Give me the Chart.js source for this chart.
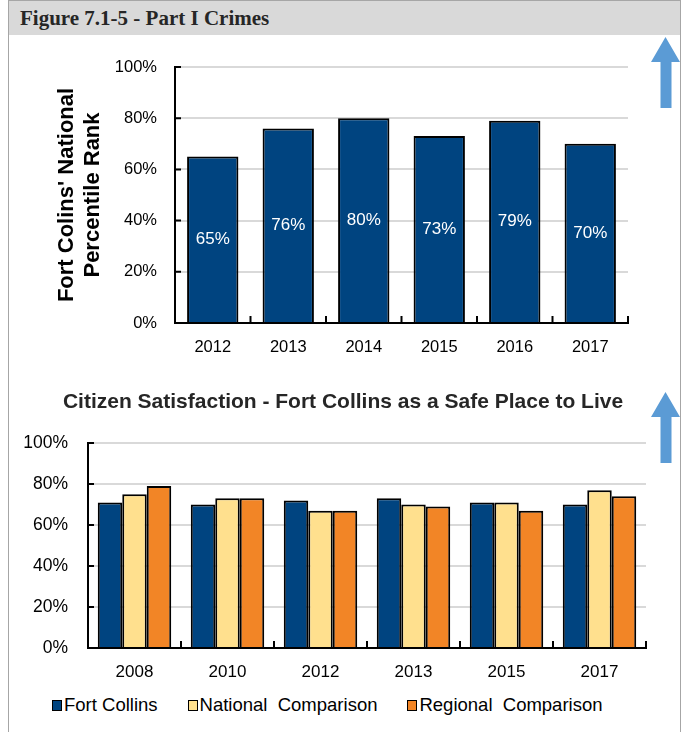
<!DOCTYPE html>
<html><head><meta charset="utf-8">
<script src="https://cdn.jsdelivr.net/npm/chart.js@4.4.1/dist/chart.umd.min.js"></script>
<style>
html,body{margin:0;padding:0;background:#fff;}
body{width:683px;height:732px;position:relative;overflow:hidden;font-family:"Liberation Sans",Arial,sans-serif;}
#frame{position:absolute;left:8px;top:0;width:673px;height:760px;border:1.5px solid #A6A6A6;box-sizing:border-box;}
#header{position:absolute;left:9px;top:1px;width:671px;height:34px;background:#D9D9D9;}
#header span{position:absolute;left:11px;top:5px;font:bold 21px "Liberation Serif","Times New Roman",serif;color:#262626;white-space:nowrap;}
#c1{position:absolute;left:0;top:36px;}
#c2{position:absolute;left:0;top:380px;}
#arrows{position:absolute;left:0;top:0;}
#legend{position:absolute;left:52px;top:694px;display:flex;gap:30px;font:18.5px "Liberation Sans",Arial,sans-serif;color:#000;}
#legend .item{display:flex;align-items:center;white-space:pre;}
#legend .box{width:10px;height:11px;border:1.5px solid #000;box-sizing:border-box;margin-right:2px;}
</style>
</head>
<body>
<div id="frame"></div>
<div id="header"><span>Figure 7.1-5 - Part I Crimes</span></div>
<svg id="arrows" width="683" height="732">
  <polygon points="665.5,37 680,62 671.5,62 671.5,108 660.5,108 660.5,62 651,62" fill="#5B9BD5"/>
  <polygon points="665.5,392 680,417 671.5,417 671.5,463 660.5,463 660.5,417 651,417" fill="#5B9BD5"/>
</svg>
<canvas id="c1" width="683" height="334"></canvas>
<canvas id="c2" width="683" height="310"></canvas>
<div id="legend"></div>
<script>
// ---- Data ----
const crimeYears = ['2012','2013','2014','2015','2016','2017'];
const crimeRank = [65, 76, 80, 73, 79, 70];
const rankTitle = ["Fort Colins' National", "Percentile Rank"];

const satYears = ['2008','2010','2012','2013','2015','2017'];
const fortCollins = [71, 70, 72, 73, 71, 70];
const nationalComp = [75, 73, 67, 70, 71, 77];
const regionalComp = [79, 73, 67, 69, 67, 74];
const seriesNames = ['Fort Collins', 'National  Comparison', 'Regional  Comparison'];
const seriesColors = ['#004480', '#FFE08E', '#F28526'];
const satTitle = 'Citizen Satisfaction - Fort Collins as a Safe Place to Live';

const yMin = 0, yMax = 100, yStep = 20;

// ---- Plugins ----
const inwardTicks = {
  id: 'inwardTicks',
  afterDraw(chart) {
    const {ctx, chartArea: a, scales: {x, y}} = chart;
    ctx.save();
    ctx.strokeStyle = '#000';
    ctx.lineWidth = 2;
    ctx.beginPath();
    y.ticks.forEach(t => {
      const py = y.getPixelForValue(t.value);
      ctx.moveTo(a.left, py); ctx.lineTo(a.left + 6, py);
    });
    const n = x.ticks.length;
    for (let i = 0; i <= n; i++) {
      const px = x.getPixelForValue(i - 0.5);
      ctx.moveTo(px, a.bottom); ctx.lineTo(px, a.bottom - 7);
    }
    ctx.stroke();
    ctx.restore();
  }
};

const barLabels = {
  id: 'barLabels',
  afterDatasetsDraw(chart) {
    const ctx = chart.ctx;
    const meta = chart.getDatasetMeta(0);
    const vals = chart.data.datasets[0].data;
    ctx.save();
    ctx.fillStyle = '#fff';
    ctx.font = '17px "Liberation Sans", Arial, sans-serif';
    ctx.textAlign = 'center';
    ctx.textBaseline = 'middle';
    meta.data.forEach((bar, i) => {
      ctx.fillText(vals[i] + '%', bar.x, (bar.y + bar.base) / 2);
    });
    ctx.restore();
  }
};

// shifts the centre of the chart title to the right (title sits off the plot centre in the source)
const titleShift = {
  id: 'titleShift',
  afterLayout(chart, args, opts) {
    if (chart.titleBlock) chart.titleBlock.left += opts.shift || 0;
  }
};

Chart.defaults.font.family = '"Liberation Sans", Arial, sans-serif';
Chart.defaults.color = '#000';

const yScaleBase = (fontSize, pad) => ({
  min: yMin, max: yMax,
  ticks: {stepSize: yStep, callback: v => v + '%', color: '#000', font: {size: fontSize}, padding: pad},
  grid: {color: '#D9D9D9', lineWidth: 2, drawTicks: false},
  border: {display: true, color: '#000', width: 2}
});

// ---- Chart 1 ----
new Chart(document.getElementById('c1'), {
  type: 'bar',
  data: {
    labels: crimeYears,
    datasets: [{
      data: crimeRank,
      backgroundColor: '#004480',
      borderColor: '#000',
      borderWidth: 2,
      barPercentage: 0.68,
      categoryPercentage: 1
    }]
  },
  options: {
    responsive: false,
    animation: false,
    layout: {padding: {top: 31, right: 55, left: 0, bottom: 0}},
    plugins: {legend: {display: false}, tooltip: {enabled: false}},
    scales: {
      x: {
        grid: {display: false, drawTicks: false},
        border: {display: true, color: '#000', width: 2},
        ticks: {color: '#000', font: {size: 16.5}, padding: 15},
        afterFit(s) { s.height = 47; }
      },
      y: Object.assign(yScaleBase(16.5, 18), {
        title: {
          display: true,
          text: rankTitle,
          color: '#000',
          font: {size: 22, weight: 'bold', lineHeight: 1.18},
          padding: {top: 54, bottom: 0}
        },
        afterFit(s) { s.width = 175; }
      })
    }
  },
  plugins: [inwardTicks, barLabels]
});

// ---- Chart 2 ----
const satSeries = [fortCollins, nationalComp, regionalComp];
new Chart(document.getElementById('c2'), {
  type: 'bar',
  data: {
    labels: satYears,
    datasets: satSeries.map((d, i) => ({
      label: seriesNames[i],
      data: d,
      backgroundColor: seriesColors[i],
      borderColor: '#000',
      borderWidth: 2,
      barPercentage: 1,
      categoryPercentage: 0.79
    }))
  },
  options: {
    responsive: false,
    animation: false,
    layout: {padding: {top: 0, right: 37, left: 0, bottom: 0}},
    plugins: {
      legend: {display: false},
      tooltip: {enabled: false},
      titleShift: {shift: 40},
      title: {
        display: true,
        text: satTitle,
        color: '#262626',
        font: {size: 21, weight: 'bold', lineHeight: 1.2},
        padding: {top: 10, bottom: 27.8}
      }
    },
    scales: {
      x: {
        grid: {display: false, drawTicks: false},
        border: {display: true, color: '#000', width: 2},
        ticks: {color: '#000', font: {size: 17}, padding: 14},
        afterFit(s) { s.height = 42; }
      },
      y: Object.assign(yScaleBase(17.5, 20), {
        afterFit(s) { s.width = 88; }
      })
    }
  },
  plugins: [inwardTicks, titleShift]
});

// ---- Legend (HTML, from series arrays) ----
const legend = document.getElementById('legend');
seriesNames.forEach((name, i) => {
  const item = document.createElement('div');
  item.className = 'item';
  const box = document.createElement('span');
  box.className = 'box';
  box.style.background = seriesColors[i];
  const txt = document.createElement('span');
  txt.textContent = name;
  item.appendChild(box); item.appendChild(txt);
  legend.appendChild(item);
});
</script>
</body></html>
